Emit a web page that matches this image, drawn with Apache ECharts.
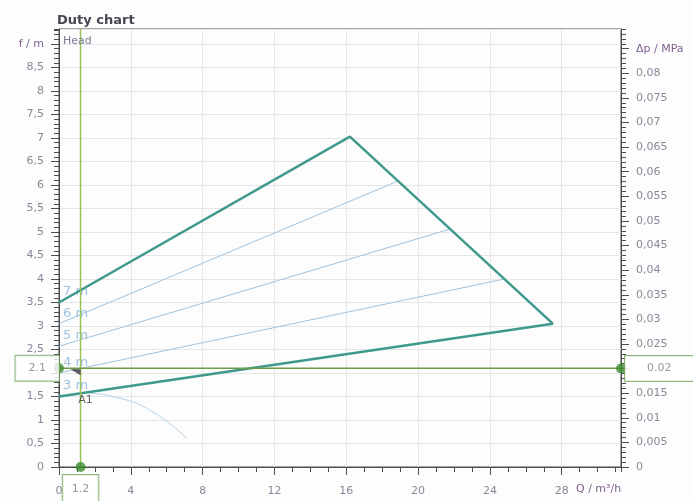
<!DOCTYPE html>
<html>
<head>
<meta charset="utf-8">
<title>Duty chart</title>
<script src="https://cdn.jsdelivr.net/npm/echarts@6/dist/echarts.min.js"></script>
<style>
	html, body { margin: 0; padding: 0; background: #fdfdfe; }
	#dutyChart { width: 693px; height: 501px; }
</style>
</head>
<body>
<div id="dutyChart"></div>
<script>
/* axis ranges: Q in m3/h, H in m, dp in MPa */
var qMax = 31.3, hMax = 9.32, pMax = 0.089;

/* duty range envelope (top = 7 m line, bottom = 3 m line) */
var envelope = [[0, 3.5], [16.2, 7.03], [27.5, 3.05], [0, 1.5]];

/* thin iso lines inside the range */
var iso6 = [[0, 3.05], [18.85, 6.08]];
var iso5 = [[0, 2.57], [21.75, 5.06]];
var iso4 = [[0, 2.0], [24.8, 4.0]];
var isoNames = ['7 m', '6 m', '5 m', '4 m', '3 m'];
var isoStartH = [3.5, 3.05, 2.57, 2.0, 1.5];

/* pump curve A1 */
var curveQ = [1.2, 2.1, 3.2, 4.35, 5.1, 5.86, 6.5, 7.14];
var curveH = [1.58, 1.56, 1.48, 1.35, 1.2, 1.01, 0.82, 0.61];

/* duty point */
var dutyQ = 1.2, dutyH = 2.1, dutyP = 0.02;

var font = 'DejaVu Sans';
var axisDark = '#4d4d4d';
var labelGrey = '#8a8898';
var nameColor = '#7d5f8c';

function comma(v, d) {
	return String(+v.toFixed(d)).replace('.', ',');
}

function zip(xs, ys) {
	return xs.map(function(x, i) { return [x, ys[i]]; });
}

var boxLabel = {
	show: true,
	backgroundColor: '#fff',
	borderColor: '#72a35a',
	borderWidth: 1,
	color: '#7d7b8c',
	fontSize: 11,
	fontFamily: font
};

/* extra axes only carry the small ticks */
function minorAxis(pos, max, step) {
	return {
		type: 'value',
		position: pos,
		min: 0,
		max: max,
		interval: step,
		axisLine: { show: false, onZero: false },
		axisLabel: { show: false },
		splitLine: { show: false },
		axisTick: { show: true, length: 5, lineStyle: { color: axisDark } }
	};
}

var option = {
	animation: false,
	backgroundColor: '#fdfdfe',
	title: {
		text: 'Duty chart',
		left: 52,
		top: 9,
		textStyle: { fontFamily: font, fontSize: 13, fontWeight: 'bold', color: '#4b4553' }
	},
	graphic: [{
		type: 'text',
		left: 63,
		top: 36,
		z: 10,
		style: { text: 'Head', fill: '#7d7a92', font: '11px "DejaVu Sans"' }
	}],
	grid: {
		left: 59,
		right: 72,
		top: 29,
		bottom: 34,
		outerBoundsMode: 'none',
		containLabel: false,
		show: true,
		borderColor: axisDark,
		borderWidth: 1
	},
	xAxis: [{
		type: 'value',
		position: 'bottom',
		min: 0,
		max: qMax,
		interval: 4,
		axisLine: { onZero: false, lineStyle: { color: axisDark } },
		axisTick: { length: 8, lineStyle: { color: axisDark } },
		axisLabel: { margin: 19, showMaxLabel: false, color: labelGrey, fontSize: 11, fontFamily: font },
		splitLine: { show: true, lineStyle: { color: '#e4e6ea' } },
		name: 'Q / m³/h',
		nameLocation: 'end',
		nameGap: -45,
		nameTextStyle: { color: nameColor, fontSize: 11, fontFamily: font, align: 'left', verticalAlign: 'top', padding: [17, 0, 0, 0] }
	}, minorAxis('bottom', qMax, 1)],
	yAxis: [{
		type: 'value',
		position: 'left',
		min: 0,
		max: hMax,
		interval: 0.5,
		axisLine: { onZero: false, lineStyle: { color: axisDark } },
		axisTick: { length: 8, lineStyle: { color: axisDark } },
		axisLabel: {
			margin: 15,
			showMaxLabel: false,
			color: labelGrey,
			fontSize: 11,
			fontFamily: font,
			formatter: function(v) {
				if (Math.abs(v - 9) < 1e-6) return '{n|f / m}';
				// the duty value box sits over this tick
				if (Math.abs(v - dutyH) < 0.25) return '';
				return comma(v, 1);
			},
			rich: { n: { color: nameColor, fontSize: 11, fontFamily: font } }
		},
		splitLine: { show: true, lineStyle: { color: '#e4e6ea' } }
	}, {
		type: 'value',
		position: 'right',
		min: 0,
		max: pMax,
		interval: 0.005,
		axisLine: { onZero: false, lineStyle: { color: axisDark } },
		axisTick: { length: 8, lineStyle: { color: axisDark } },
		axisLabel: {
			margin: 15,
			showMaxLabel: false,
			color: labelGrey,
			fontSize: 11,
			fontFamily: font,
			formatter: function(v) {
				if (Math.abs(v - 0.085) < 1e-6) return '{n|Δp / MPa}';
				if (Math.abs(v - dutyP) < 0.0025) return '';
				return comma(v, 3);
			},
			rich: { n: { color: nameColor, fontSize: 11, fontFamily: font } }
		},
		splitLine: { show: false }
	}, minorAxis('left', hMax, 0.1), minorAxis('right', pMax, 0.001)],
	series: [{
		name: '6 m',
		type: 'line',
		data: iso6,
		symbol: 'none',
		lineStyle: { color: '#9fc4e0', width: 1 }
	}, {
		name: '5 m',
		type: 'line',
		data: iso5,
		symbol: 'none',
		lineStyle: { color: '#9fc4e0', width: 1 }
	}, {
		name: '4 m',
		type: 'line',
		data: iso4,
		symbol: 'none',
		lineStyle: { color: '#9fc4e0', width: 1 }
	}, {
		name: 'iso labels',
		type: 'scatter',
		symbolSize: 0,
		clip: false,
		data: isoNames.map(function(n, i) { return [0, isoStartH[i], n]; }),
		label: {
			show: true,
			position: [4, -17],
			formatter: function(p) { return p.value[2]; },
			color: '#86b3d6',
			fontSize: 13,
			fontFamily: font
		}
	}, {
		name: 'A1',
		type: 'line',
		data: zip(curveQ, curveH),
		symbol: 'none',
		smooth: true,
		lineStyle: { color: '#b3d2e8', width: 1 }
	}, {
		name: 'range',
		type: 'line',
		data: envelope,
		symbol: 'none',
		z: 3,
		lineStyle: { color: '#3f998c', width: 2.5 }
	}, {
		name: 'Q duty',
		type: 'line',
		data: [[dutyQ, 0], [dutyQ, hMax]],
		symbol: 'none',
		z: 4,
		lineStyle: { color: '#9dc256', width: 1.5 }
	}, {
		name: 'H duty',
		type: 'line',
		data: [[0, dutyH], [qMax, dutyH]],
		symbol: 'none',
		z: 4,
		lineStyle: { color: '#6f9c48', width: 1.5 }
	}, {
		name: 'A1 label',
		type: 'scatter',
		symbolSize: 0,
		z: 5,
		data: [[curveQ[0], curveH[0]]],
		label: {
			show: true,
			position: 'inside',
			offset: [5, 7],
			formatter: 'A1',
			color: '#3c3c3c',
			fontSize: 11,
			fontFamily: font
		}
	}, {
		name: 'duty arrow',
		type: 'scatter',
		symbol: 'path://M0,0L10,0L10,6Z',
		symbolSize: [10, 6],
		symbolOffset: [-5, 4],
		z: 5,
		itemStyle: { color: '#333' },
		data: [[dutyQ, dutyH]]
	}, {
		name: 'duty point',
		type: 'scatter',
		symbolSize: 10,
		clip: false,
		zlevel: 1,
		itemStyle: { color: '#3b8b2c' },
		data: [{
			value: [dutyQ, 0],
			label: Object.assign({}, boxLabel, {
				position: 'bottom', distance: 3, padding: [9, 9, 20, 9],
				formatter: String(dutyQ)
			})
		}, {
			value: [0, dutyH],
			label: Object.assign({}, boxLabel, {
				position: 'left', distance: -5, padding: [7, 13, 7, 13],
				formatter: String(dutyH)
			})
		}]
	}, {
		name: 'duty pressure',
		type: 'scatter',
		yAxisIndex: 1,
		symbolSize: 10,
		clip: false,
		zlevel: 1,
		itemStyle: { color: '#3b8b2c' },
		data: [{
			value: [qMax, dutyP],
			label: Object.assign({}, boxLabel, {
				position: 'right', distance: -1, padding: [7, 40, 7, 22],
				formatter: String(dutyP)
			})
		}]
	}]
};

var chart = echarts.init(document.getElementById('dutyChart'));
chart.setOption(option);
window.addEventListener('resize', function() { chart.resize(); });
</script>
</body>
</html>
